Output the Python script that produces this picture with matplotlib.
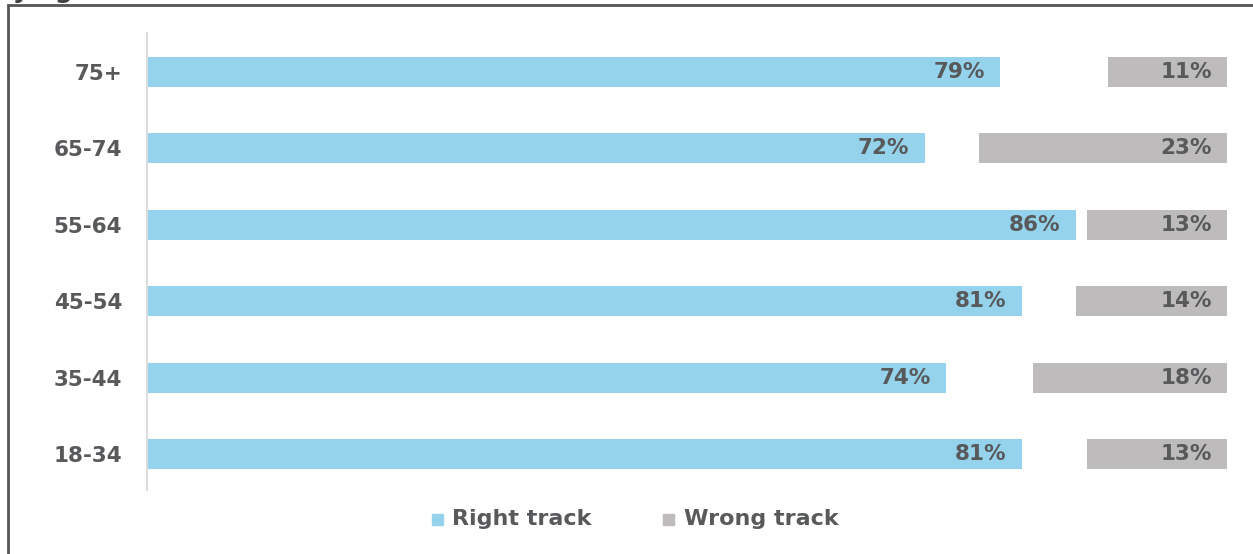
import matplotlib
matplotlib.use("Agg")
import matplotlib.pyplot as plt
from matplotlib.patches import Rectangle

# Data
groups = ["18-34", "35-44", "45-54", "55-64", "65-74", "75+"]
right_track = [81, 74, 81, 86, 72, 79]
wrong_track = [13, 18, 14, 13, 23, 11]

blue = "#94d3eb"
grey = "#bdbbbc"
txt = "#58595b"
plt.rcParams["font.family"] = ["DejaVu Sans"]

fig = plt.figure(figsize=(12.53, 5.54), dpi=100)
ax = fig.add_axes([147 / 1253, 64 / 554, 1080 / 1253, 457 / 554])

y = list(range(len(groups)))
h = 0.39
ax.barh(y, right_track, height=h, color=blue, edgecolor="none")
# wrong track bars are anchored at the right end of the axis
ax.barh(y, wrong_track, left=[100 - w for w in wrong_track], height=h,
        color=grey, edgecolor="none")

for i in y:
    ax.text(right_track[i] - 1.4, i, f"{right_track[i]}%", ha="right", va="center",
            fontsize=15.5, fontweight="bold", color=txt)
    ax.text(100 - 1.4, i, f"{wrong_track[i]}%", ha="right", va="center",
            fontsize=15.5, fontweight="bold", color=txt)

ax.set_xlim(0, 100)
ax.set_ylim(-0.47, 5.51)
ax.set_yticks(y)
ax.set_yticklabels(groups, fontsize=15.5, fontweight="bold", color=txt)
ax.tick_params(axis="y", length=0, pad=18)
ax.set_xticks([])
for s in ["top", "right", "bottom"]:
    ax.spines[s].set_visible(False)
ax.spines["left"].set_color("#dcdcdc")
ax.spines["left"].set_linewidth(1.5)

# legend
fig.patches.append(Rectangle((432 / 1253, (554 - 525) / 554), 11 / 1253, 11 / 554,
                             transform=fig.transFigure, color=blue))
fig.text(452 / 1253, (554 - 519) / 554, "Right track", ha="left", va="center",
         fontsize=16, fontweight="bold", color=txt)
fig.patches.append(Rectangle((663 / 1253, (554 - 525) / 554), 11 / 1253, 11 / 554,
                             transform=fig.transFigure, color=grey))
fig.text(684 / 1253, (554 - 519) / 554, "Wrong track", ha="left", va="center",
         fontsize=16, fontweight="bold", color=txt)

# outer frame and the clipped title above it
fig.patches.append(Rectangle((8 / 1253, -0.1), 1.2, 1.1 - 5 / 554,
                             transform=fig.transFigure, fill=False,
                             edgecolor="#555555", linewidth=2))
fig.text(-0.004, 1 + 2 / 554, "by age", ha="left", va="baseline",
         fontsize=18, fontweight="bold", color="#404040")

fig.savefig("out.png", dpi=100)
